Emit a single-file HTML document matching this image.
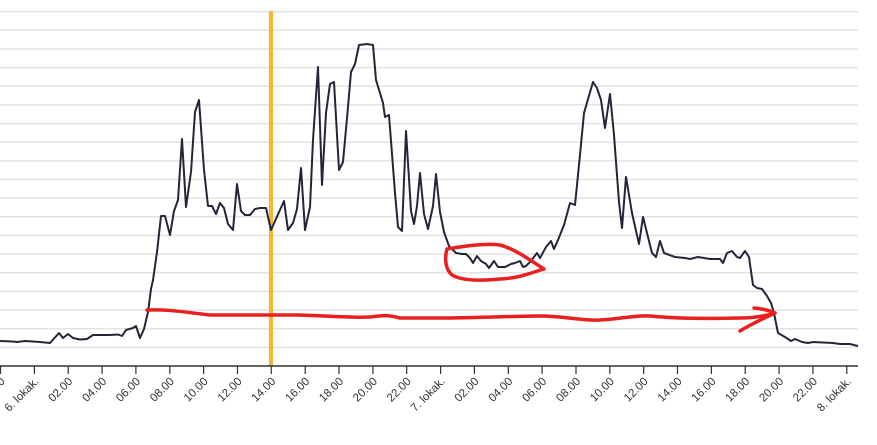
<!DOCTYPE html>
<html><head><meta charset="utf-8"><style>html,body{margin:0;padding:0;background:#fff}svg{display:block}</style></head>
<body>
<svg width="877" height="445" viewBox="0 0 877 445" xmlns="http://www.w3.org/2000/svg">
<g stroke="#e3e3e3" stroke-width="1.5">
<line x1="0" x2="858" y1="347.4" y2="347.4"/><line x1="0" x2="858" y1="328.7" y2="328.7"/><line x1="0" x2="858" y1="310.1" y2="310.1"/><line x1="0" x2="858" y1="291.4" y2="291.4"/><line x1="0" x2="858" y1="272.8" y2="272.8"/><line x1="0" x2="858" y1="254.1" y2="254.1"/><line x1="0" x2="858" y1="235.5" y2="235.5"/><line x1="0" x2="858" y1="216.8" y2="216.8"/><line x1="0" x2="858" y1="198.2" y2="198.2"/><line x1="0" x2="858" y1="179.5" y2="179.5"/><line x1="0" x2="858" y1="160.9" y2="160.9"/><line x1="0" x2="858" y1="142.2" y2="142.2"/><line x1="0" x2="858" y1="123.6" y2="123.6"/><line x1="0" x2="858" y1="104.9" y2="104.9"/><line x1="0" x2="858" y1="86.3" y2="86.3"/><line x1="0" x2="858" y1="67.6" y2="67.6"/><line x1="0" x2="858" y1="49" y2="49"/><line x1="0" x2="858" y1="30.3" y2="30.3"/><line x1="0" x2="858" y1="11.7" y2="11.7"/>
</g>
<line x1="271" y1="11" x2="271" y2="366" stroke="#f5b731" stroke-width="4"/>
<polyline fill="none" stroke="#232638" stroke-width="2" stroke-linejoin="round" points="0,341 13,341.5 17,342 25,341 33,341.5 40,342 50,343 59,333 63,338 68,334 73,338 80,339.5 87,339 93,335 98,335 110,335 118,334.5 122,336 126,330 133,328 136,326 140,338 144,329 148,312 151,289 153,280 157,252 161,216 165,216 170,235 174,211 178,200 182,139 186,207 191,172 195,112 199,100 204,170 208,206 212,206 216,214 220,203 224,208 228,224 233,230 237,184 241,211 245,215 250,215 255,209 260,208 266,208 271,230 284,201 288,230 293,223 297,209 301,168 305,230 310,207 313,140 318,67 322,185 326,113 330,84 334,82 339,170 343,162 348,107 351,72 355,64 359,45 367,44 373,45 376,80 380,93 383,103 385,117 389,115 395,193 398,227 402,231 406,131 411,211 414,224 417,206 420,173 424,214 428,229 433,206 436,174 440,212 444,232 449,246 452,249 456,253 462,254 466,254 470,258 473,263 477,256 481,261 486,264 489,268 494,261 498,267 503,267 505,267 511,264 515,263 520,261 523,267 526,266 530,262 537,253 540,258 546,247 551,241 554,249 558,240 564,225 570,203 575,205 580,155 584,113 593,82 597,88 601,100 605,128 610,94 614,135 619,202 622,228 626,177 632,213 639,244 643,217 652,253 656,257 660,241 664,253 675,257 685,258 690,259 698,257 710,259 720,259 723,263 727,253 732,251 737,257 740,258 745,251 749,257 753,285 757,288 762,289 767,296 771,303 774,313 778,333 785,337 791,341 795,339 802,342 808,343 813,342 833,343 840,344 850,344 858,346"/>
<g fill="none" stroke="#e8201f" stroke-width="3.5" stroke-linecap="round" stroke-linejoin="round">
<path d="M147,310 C170,309 190,313 210,315 L300,315 C330,316 350,318 370,317 C380,316 385,314 400,318 L450,318 C500,317 520,316 540,316 C565,316 580,321 600,320 C620,319 635,315 650,316 C670,318 700,319 740,318 C755,318 765,316 775,313"/>
<path d="M754,308 C765,309 770,311 775,313 C760,320 748,326 740,331"/>
<path d="M447,249 C465,246 485,243 500,245 C515,249 530,260 544,269 C530,273 520,278 500,279 C480,281 462,281 452,275 C446,270 444,260 447,249 Z"/>
</g>
<line x1="0" x2="858" y1="366" y2="366" stroke="#333" stroke-width="1.5"/>
<g stroke="#333" stroke-width="1.2">
<line x1="0.5" x2="0.5" y1="366" y2="374"/><line x1="34.4" x2="34.4" y1="366" y2="374"/><line x1="68.2" x2="68.2" y1="366" y2="374"/><line x1="102.1" x2="102.1" y1="366" y2="374"/><line x1="135.9" x2="135.9" y1="366" y2="374"/><line x1="169.8" x2="169.8" y1="366" y2="374"/><line x1="203.6" x2="203.6" y1="366" y2="374"/><line x1="237.5" x2="237.5" y1="366" y2="374"/><line x1="271.3" x2="271.3" y1="366" y2="374"/><line x1="305.2" x2="305.2" y1="366" y2="374"/><line x1="339" x2="339" y1="366" y2="374"/><line x1="372.9" x2="372.9" y1="366" y2="374"/><line x1="406.7" x2="406.7" y1="366" y2="374"/><line x1="440.6" x2="440.6" y1="366" y2="374"/><line x1="474.4" x2="474.4" y1="366" y2="374"/><line x1="508.3" x2="508.3" y1="366" y2="374"/><line x1="542.1" x2="542.1" y1="366" y2="374"/><line x1="576" x2="576" y1="366" y2="374"/><line x1="609.8" x2="609.8" y1="366" y2="374"/><line x1="643.7" x2="643.7" y1="366" y2="374"/><line x1="677.5" x2="677.5" y1="366" y2="374"/><line x1="711.4" x2="711.4" y1="366" y2="374"/><line x1="745.2" x2="745.2" y1="366" y2="374"/><line x1="779.1" x2="779.1" y1="366" y2="374"/><line x1="812.9" x2="812.9" y1="366" y2="374"/><line x1="846.8" x2="846.8" y1="366" y2="374"/>
</g>
<g font-family="Liberation Sans, sans-serif" font-size="11.5" fill="#333" text-anchor="end">
<text x="5.5" y="382" transform="rotate(-45 5.5 382)">22.00</text>
<text x="39.4" y="382" transform="rotate(-45 39.4 382)">6. lokak.</text>
<text x="73.2" y="382" transform="rotate(-45 73.2 382)">02.00</text>
<text x="107.1" y="382" transform="rotate(-45 107.1 382)">04.00</text>
<text x="140.9" y="382" transform="rotate(-45 140.9 382)">06.00</text>
<text x="174.8" y="382" transform="rotate(-45 174.8 382)">08.00</text>
<text x="208.6" y="382" transform="rotate(-45 208.6 382)">10.00</text>
<text x="242.5" y="382" transform="rotate(-45 242.5 382)">12.00</text>
<text x="276.3" y="382" transform="rotate(-45 276.3 382)">14.00</text>
<text x="310.2" y="382" transform="rotate(-45 310.2 382)">16.00</text>
<text x="344" y="382" transform="rotate(-45 344 382)">18.00</text>
<text x="377.9" y="382" transform="rotate(-45 377.9 382)">20.00</text>
<text x="411.7" y="382" transform="rotate(-45 411.7 382)">22.00</text>
<text x="445.6" y="382" transform="rotate(-45 445.6 382)">7. lokak.</text>
<text x="479.4" y="382" transform="rotate(-45 479.4 382)">02.00</text>
<text x="513.3" y="382" transform="rotate(-45 513.3 382)">04.00</text>
<text x="547.1" y="382" transform="rotate(-45 547.1 382)">06.00</text>
<text x="581" y="382" transform="rotate(-45 581 382)">08.00</text>
<text x="614.8" y="382" transform="rotate(-45 614.8 382)">10.00</text>
<text x="648.7" y="382" transform="rotate(-45 648.7 382)">12.00</text>
<text x="682.5" y="382" transform="rotate(-45 682.5 382)">14.00</text>
<text x="716.4" y="382" transform="rotate(-45 716.4 382)">16.00</text>
<text x="750.2" y="382" transform="rotate(-45 750.2 382)">18.00</text>
<text x="784.1" y="382" transform="rotate(-45 784.1 382)">20.00</text>
<text x="817.9" y="382" transform="rotate(-45 817.9 382)">22.00</text>
<text x="851.8" y="382" transform="rotate(-45 851.8 382)">8. lokak.</text>
</g>
</svg>
</body></html>
